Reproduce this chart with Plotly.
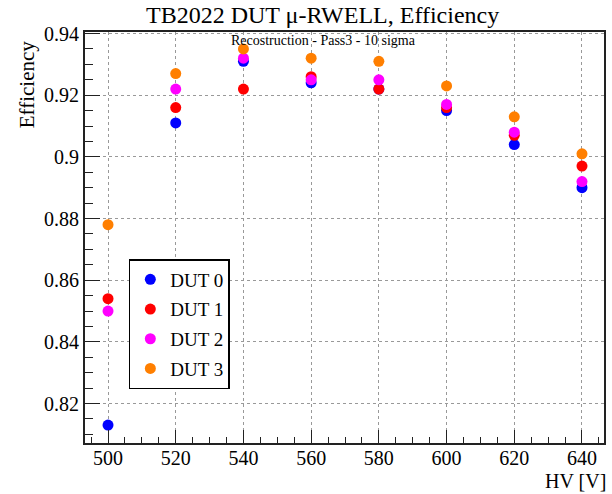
import plotly.graph_objects as go

hv = [500, 520, 540, 560, 580, 600, 620, 640]
dut0 = [0.813, 0.911, 0.931, 0.924, 0.922, 0.915, 0.904, 0.890]
dut1 = [0.854, 0.916, 0.922, 0.926, 0.922, 0.916, 0.907, 0.897]
dut2 = [0.850, 0.922, 0.932, 0.925, 0.925, 0.917, 0.908, 0.892]
dut3 = [0.878, 0.927, 0.935, 0.932, 0.931, 0.923, 0.913, 0.901]

series = [("DUT 0", dut0, "#0000ff"),
          ("DUT 1", dut1, "#ff0000"),
          ("DUT 2", dut2, "#ff00ff"),
          ("DUT 3", dut3, "#ff7f00")]

font = "Liberation Serif, Times New Roman, serif"

W, H = 612, 494
ML, MR, MT, MB = 85, 6, 32, 51
PW, PH = W - ML - MR, H - MT - MB


def px(x):  # pixel -> paper x
    return (x - ML) / PW


def py(y):  # pixel -> paper y
    return 1 - (y - MT) / PH


fig = go.Figure()
for name, vals, col in series:
    fig.add_trace(go.Scatter(x=hv, y=vals, mode="markers", name=name, legendgroup=name,
                             marker=dict(color=col, size=11, line=dict(width=0))))

axis_common = dict(showline=True, linecolor="#222", linewidth=2, mirror=True,
                   ticks="inside", tickcolor="#222", tickwidth=1.3,
                   showgrid=True, gridcolor="#999", griddash="dot", gridwidth=1,
                   zeroline=False, tickfont=dict(size=20, family=font, color="black"))

fig.update_xaxes(range=[493.2, 646.5], tick0=500, dtick=20, ticklen=13, ticklabelstandoff=-4,
                 minor=dict(ticks="inside", ticklen=6, dtick=5, tickcolor="#222", showgrid=False),
                 **axis_common)
fig.update_yaxes(range=[0.8072, 0.9405], tick0=0.82, dtick=0.02, ticklen=15,
                 minor=dict(ticks="inside", ticklen=8, dtick=0.005, tickcolor="#222", showgrid=False),
                 **axis_common)

fig.update_layout(
    width=W, height=H,
    margin=dict(l=ML, r=MR, t=MT, b=MB),
    paper_bgcolor="white", plot_bgcolor="white",
    font=dict(family=font, color="black"),
    showlegend=True,
    legend=dict(x=px(129), y=py(259), xanchor="left", yanchor="top",
                bgcolor="white", bordercolor="black", borderwidth=1.5,
                traceorder="grouped", tracegroupgap=2,
                font=dict(size=19, family=font), itemwidth=30),
    annotations=[
        dict(text="TB2022 DUT μ-RWELL, Efficiency", x=px(323), y=py(30),
             xanchor="center", yanchor="bottom", font=dict(size=24)),
        dict(text="Recostruction - Pass3 - 10 sigma", x=px(324.5), y=py(41),
             xanchor="center", yanchor="middle", font=dict(size=14)),
        dict(text="Efficiency", textangle=-90, x=px(27), y=py(38),
             xanchor="center", yanchor="top", font=dict(size=21)),
        dict(text="HV [V]", x=px(609), y=py(481), borderpad=0,
             xanchor="right", yanchor="middle", font=dict(size=20)),
    ],
)
fig.update_annotations(xref="paper", yref="paper", showarrow=False)

# drop the default page margin so the figure fills the window exactly
fig.write_html("out.html", config={"displayModeBar": False},
               post_script="document.body.style.margin='0';document.body.style.overflow='hidden';")
